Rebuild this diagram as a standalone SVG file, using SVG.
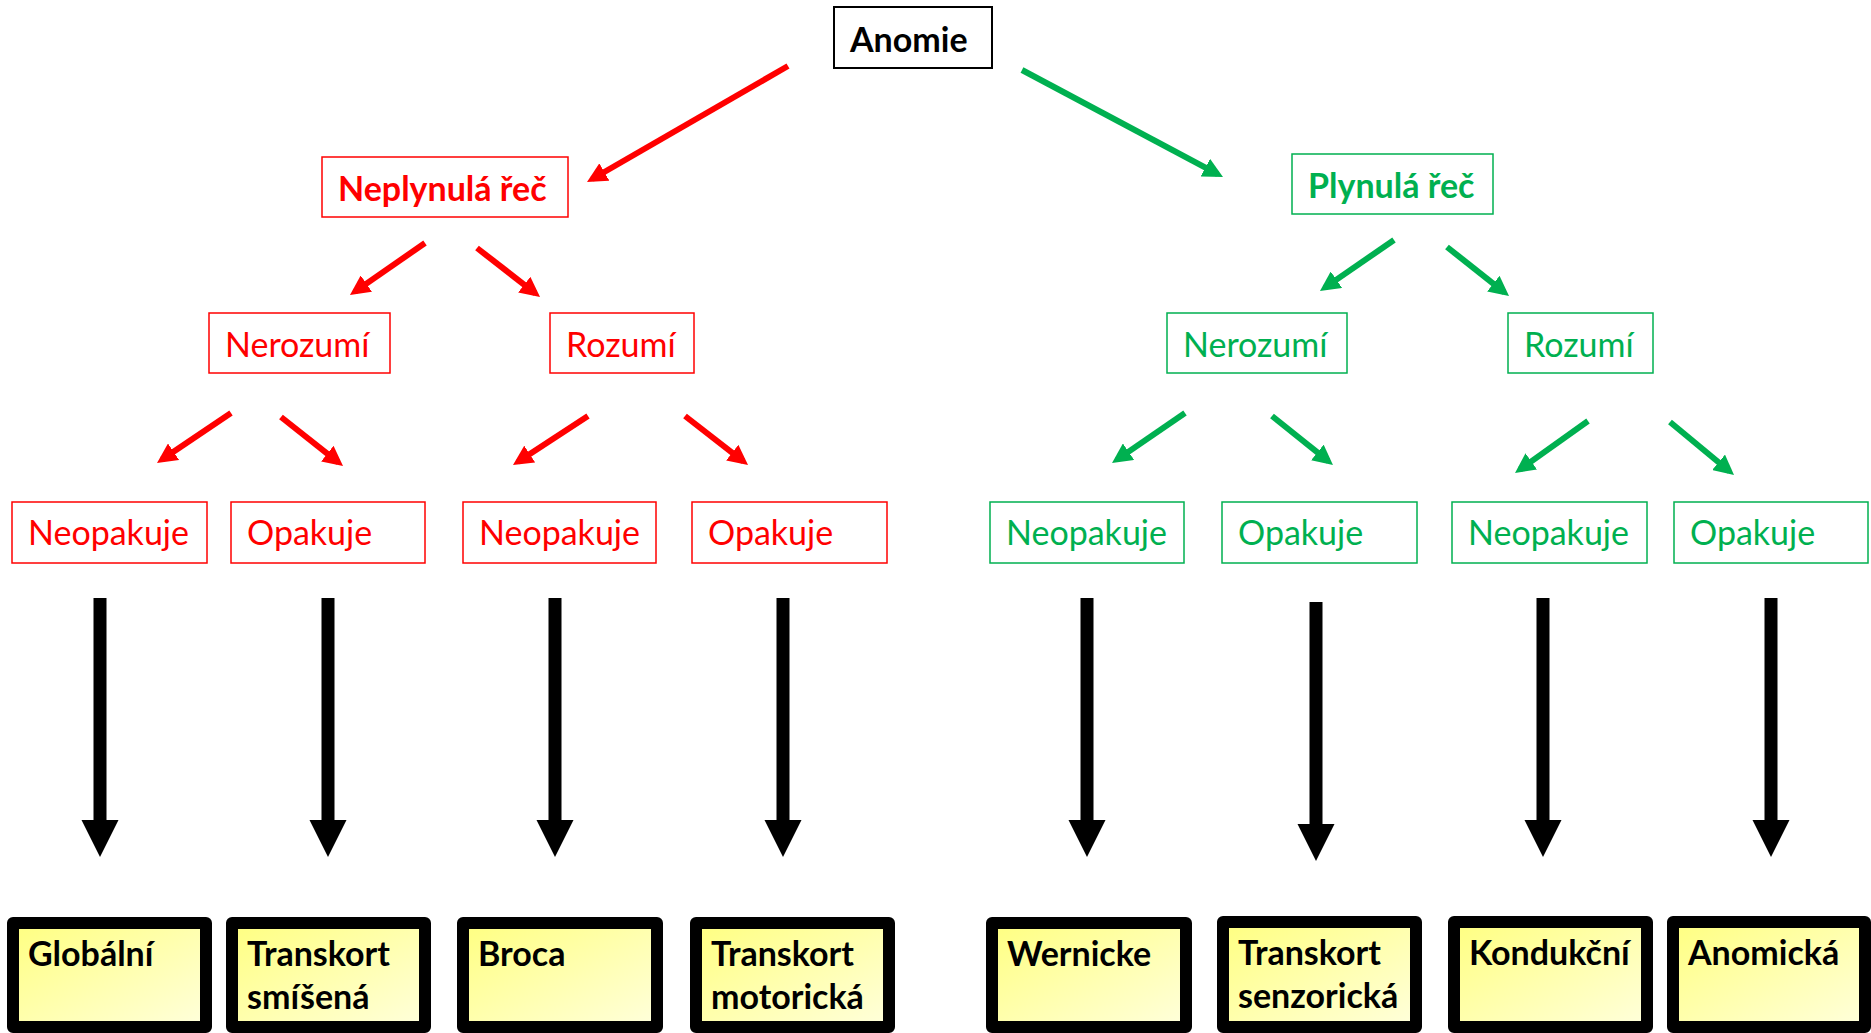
<svg xmlns="http://www.w3.org/2000/svg" width="1871" height="1033" viewBox="0 0 1871 1033">
<style>
.t{font-family:Lato,"Open Sans","Liberation Sans",sans-serif}
.hd{font-size:34px;font-weight:bold}
.lv{font-size:34px}
.red{fill:#ff0000}
.grn{fill:#00b050}
.bx{fill:#fff}
.rb{stroke:#ff0000;stroke-width:1.5}
.gb{stroke:#00b050;stroke-width:1.5}
.res{stroke:#000;stroke-width:12;stroke-linejoin:round;fill:url(#yg)}
.rt{font-size:34px;font-weight:bold;fill:#000}
.ra{stroke:#ff0000;stroke-width:6;fill:none;marker-end:url(#mr)}
.ga{stroke:#00b050;stroke-width:6;fill:none;marker-end:url(#mg)}
.ba{fill:#000}
</style>
<defs>
<linearGradient id="yg" x1="0" y1="0" x2="1" y2="1">
<stop offset="0" stop-color="#ffff80"/>
<stop offset="1" stop-color="#ffffdc"/>
</linearGradient>
<marker id="mr" markerUnits="userSpaceOnUse" viewBox="0 0 20 20" refX="14" refY="10" markerWidth="20" markerHeight="20" orient="auto"><path d="M0,0 L20,10 L0,20 z" fill="#ff0000"/></marker>
<marker id="mg" markerUnits="userSpaceOnUse" viewBox="0 0 20 20" refX="14" refY="10" markerWidth="20" markerHeight="20" orient="auto"><path d="M0,0 L20,10 L0,20 z" fill="#00b050"/></marker>
</defs>
<rect width="1871" height="1033" fill="#fff"/>
<g id="connectors">
<line class="ra" x1="788" y1="66" x2="592.2" y2="179"/>
<line class="ra" x1="425" y1="243" x2="354.9" y2="291.6"/>
<line class="ra" x1="477" y1="248" x2="535.3" y2="293.3"/>
<line class="ra" x1="231" y1="413" x2="162" y2="459.6"/>
<line class="ra" x1="281" y1="417" x2="338.3" y2="462.3"/>
<line class="ra" x1="588" y1="416" x2="518" y2="461.7"/>
<line class="ra" x1="685" y1="416" x2="743.3" y2="461.3"/>
<line class="ga" x1="1022" y1="70" x2="1217.7" y2="174.2"/>
<line class="ga" x1="1394" y1="240" x2="1324.9" y2="287.6"/>
<line class="ga" x1="1447" y1="247" x2="1504.3" y2="292.3"/>
<line class="ga" x1="1185" y1="413" x2="1117" y2="459.6"/>
<line class="ga" x1="1272" y1="416" x2="1328.3" y2="461.2"/>
<line class="ga" x1="1588" y1="421" x2="1519.9" y2="469.5"/>
<line class="ga" x1="1670" y1="422" x2="1729.4" y2="471.2"/>
<path class="ba" d="M93.5,598 h13 v222 h12 l-18.5,37 l-18.5,-37 h12 z"/>
<path class="ba" d="M321.5,598 h13 v222 h12 l-18.5,37 l-18.5,-37 h12 z"/>
<path class="ba" d="M548.5,598 h13 v222 h12 l-18.5,37 l-18.5,-37 h12 z"/>
<path class="ba" d="M776.5,598 h13 v222 h12 l-18.5,37 l-18.5,-37 h12 z"/>
<path class="ba" d="M1080.5,598 h13 v222 h12 l-18.5,37 l-18.5,-37 h12 z"/>
<path class="ba" d="M1309.5,602 h13 v222 h12 l-18.5,37 l-18.5,-37 h12 z"/>
<path class="ba" d="M1536.5,598 h13 v222 h12 l-18.5,37 l-18.5,-37 h12 z"/>
<path class="ba" d="M1764.5,598 h13 v222 h12 l-18.5,37 l-18.5,-37 h12 z"/>
</g>
<g id="anomie"><rect x="834" y="7" width="158" height="61" fill="#fff" stroke="#000" stroke-width="2"/><text class="t hd" x="850" y="52">Anomie</text></g>
<g id="neplynula"><rect class="bx rb" x="322" y="157" width="246" height="60"/><text class="t hd red" x="338" y="201">Neplynulá řeč</text></g>
<g id="plynula"><rect class="bx gb" x="1292" y="154" width="201" height="60"/><text class="t hd grn" x="1308" y="198">Plynulá řeč</text></g>
<g id="n-nerozumi"><rect class="bx rb" x="209" y="313" width="181" height="60"/><text class="t lv red" x="225" y="357">Nerozumí</text></g>
<g id="n-rozumi"><rect class="bx rb" x="550" y="313" width="144" height="60"/><text class="t lv red" x="566" y="357">Rozumí</text></g>
<g id="p-nerozumi"><rect class="bx gb" x="1167" y="313" width="180" height="60"/><text class="t lv grn" x="1183" y="357">Nerozumí</text></g>
<g id="p-rozumi"><rect class="bx gb" x="1508" y="313" width="145" height="60"/><text class="t lv grn" x="1524" y="357">Rozumí</text></g>
<g id="r-neop1"><rect class="bx rb" x="12" y="502" width="195" height="61"/><text class="t lv red" x="28" y="545">Neopakuje</text></g>
<g id="r-op1"><rect class="bx rb" x="231" y="502" width="194" height="61"/><text class="t lv red" x="247" y="545">Opakuje</text></g>
<g id="r-neop2"><rect class="bx rb" x="463" y="502" width="193" height="61"/><text class="t lv red" x="479" y="545">Neopakuje</text></g>
<g id="r-op2"><rect class="bx rb" x="692" y="502" width="195" height="61"/><text class="t lv red" x="708" y="545">Opakuje</text></g>
<g id="g-neop1"><rect class="bx gb" x="990" y="502" width="194" height="61"/><text class="t lv grn" x="1006" y="545">Neopakuje</text></g>
<g id="g-op1"><rect class="bx gb" x="1222" y="502" width="195" height="61"/><text class="t lv grn" x="1238" y="545">Opakuje</text></g>
<g id="g-neop2"><rect class="bx gb" x="1452" y="502" width="195" height="61"/><text class="t lv grn" x="1468" y="545">Neopakuje</text></g>
<g id="g-op2"><rect class="bx gb" x="1674" y="502" width="194" height="61"/><text class="t lv grn" x="1690" y="545">Opakuje</text></g>
<g id="globalni"><rect class="res" x="13" y="923" width="193" height="104"/><text class="t rt" x="28" y="966">Globální</text></g>
<g id="ts-smisena"><rect class="res" x="232" y="923" width="193" height="104"/><text class="t rt" x="247" y="966">Transkort</text><text class="t rt" x="247" y="1009">smíšená</text></g>
<g id="broca"><rect class="res" x="463" y="923" width="194" height="104"/><text class="t rt" x="478" y="966">Broca</text></g>
<g id="ts-motoricka"><rect class="res" x="696" y="923" width="193" height="104"/><text class="t rt" x="711" y="966">Transkort</text><text class="t rt" x="711" y="1009">motorická</text></g>
<g id="wernicke"><rect class="res" x="992" y="923" width="194" height="104"/><text class="t rt" x="1007" y="966">Wernicke</text></g>
<g id="ts-senzoricka"><rect class="res" x="1223" y="922" width="193" height="105"/><text class="t rt" x="1238" y="965">Transkort</text><text class="t rt" x="1238" y="1008">senzorická</text></g>
<g id="konduktni"><rect class="res" x="1454" y="922" width="193" height="105"/><text class="t rt" x="1469" y="965">Kondukční</text></g>
<g id="anomicka"><rect class="res" x="1673" y="922" width="192" height="105"/><text class="t rt" x="1688" y="965">Anomická</text></g>
</svg>
